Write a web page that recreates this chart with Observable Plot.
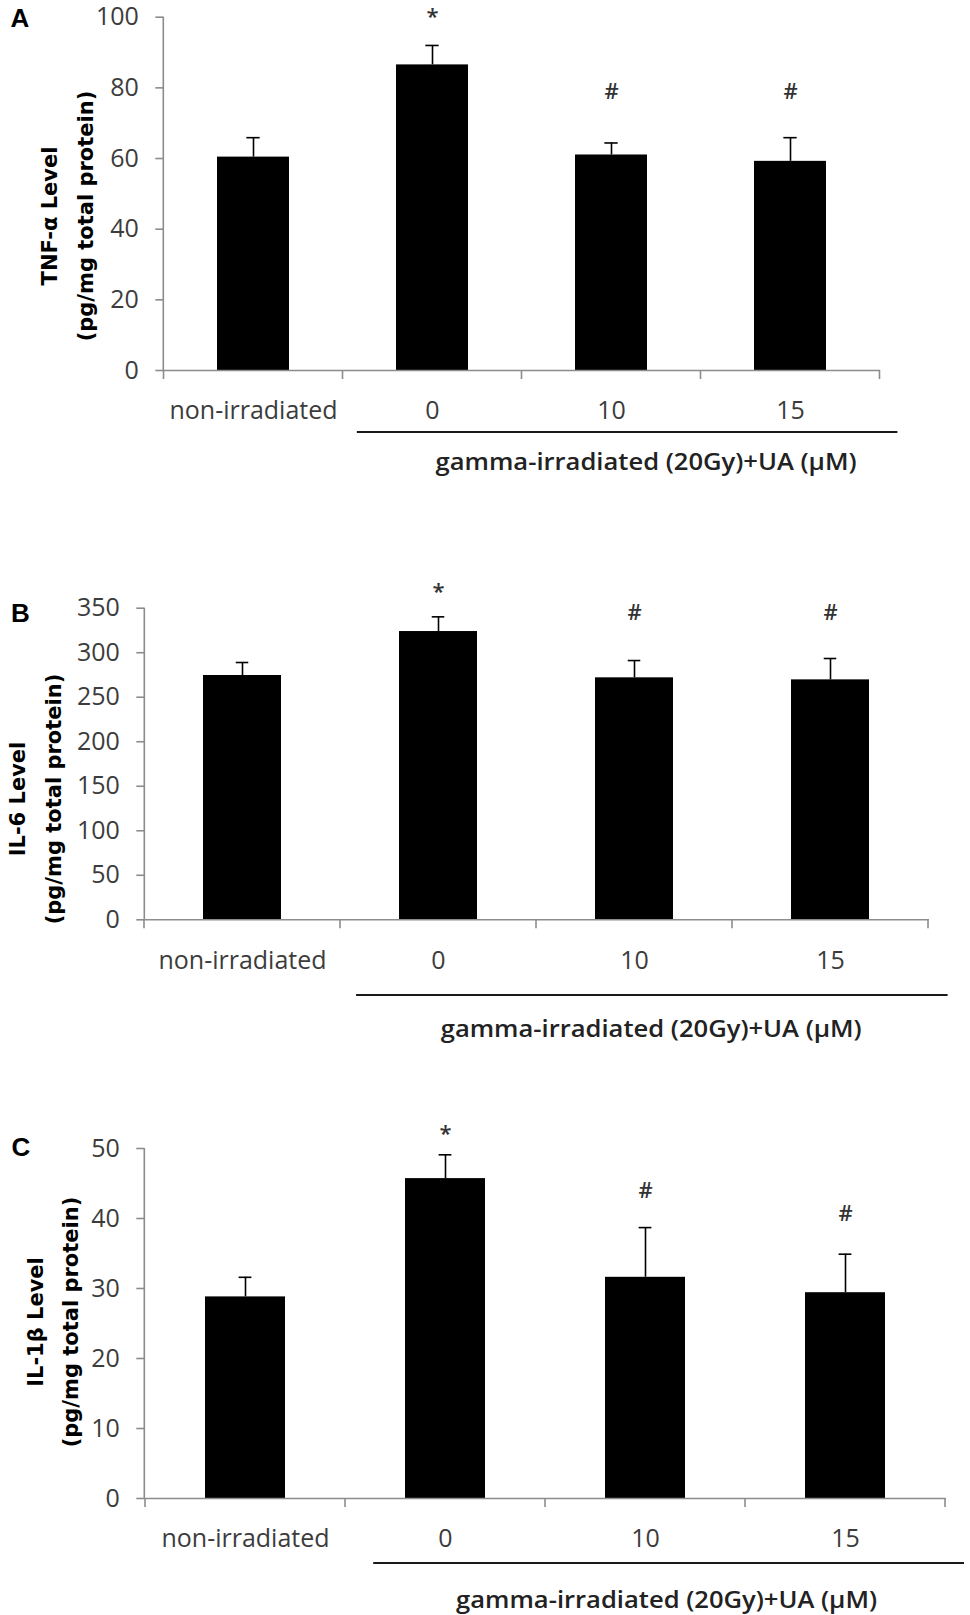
<!DOCTYPE html>
<html><head><meta charset="utf-8">
<script src="https://cdn.jsdelivr.net/npm/d3@7"></script>
<script src="https://cdn.jsdelivr.net/npm/@observablehq/plot@0.6"></script>
<style>
body{margin:0;background:#fff;width:970px;height:1615px;position:relative;overflow:hidden}
.panel{position:absolute;left:0}
</style></head><body>
<div id="pA" class="panel" style="top:0px"></div>
<div id="pB" class="panel" style="top:560px"></div>
<div id="pC" class="panel" style="top:1100px"></div>
<script>
// ---- data ----
const categories = ["non-irradiated", "0", "10", "15"];
const groupLabel = "gamma-irradiated (20Gy)+UA (\u00B5M)";
const sigMarks = ["", "*", "#", "#"];

const tnfMean = [60.4, 86.5, 61.0, 59.2];
const tnfSD = [5.5, 5.5, 3.4, 6.7];
const tnfMarkY = [null, 100, 78.7, 78.7];
const tnfTicks = [0, 20, 40, 60, 80, 100];

const il6Mean = [274.4, 323.8, 271.8, 269.5];
const il6SD = [14.6, 16.5, 19.4, 24.0];
const il6MarkY = [null, 368, 344.4, 344.4];
const il6Ticks = [0, 50, 100, 150, 200, 250, 300, 350];

const il1Mean = [28.8, 45.7, 31.6, 29.4];
const il1SD = [2.8, 3.4, 7.1, 5.5];
const il1MarkY = [null, 52.1, 44.0, 40.6];
const il1Ticks = [0, 10, 20, 30, 40, 50];

const panels = [
  {el: "#pA", letter: "A", t1: "TNF-\u03B1 Level", t2: "(pg/mg total protein)",
   mean: tnfMean, sd: tnfSD, markY: tnfMarkY, ticks: tnfTicks,
   height: 490, mL: 163.3, mR: 90, mT: 16.7, mB: 120,
   lineA: 0.42, lineB: 0.6, lineDy: 62, textC: 1.196, textDy: 90,
   tx1: 50, tx2: 86, ty: 216, lx: 20, ly: 17.5},
  {el: "#pB", letter: "B", t1: "IL-6 Level", t2: "(pg/mg total protein)",
   mean: il6Mean, sd: il6SD, markY: il6MarkY, ticks: il6Ticks,
   height: 490, mL: 144.3, mR: 41, mT: 47.7, mB: 130.7,
   lineA: 0.418, lineB: 0.6, lineDy: 75.7, textC: 1.088, textDy: 107.7,
   tx1: 17.5, tx2: 53.5, ty: 239, lx: 20.5, ly: 53},
  {el: "#pC", letter: "C", t1: "IL-1\u03B2 Level", t2: "(pg/mg total protein)",
   mean: il1Mean, sd: il1SD, markY: il1MarkY, ticks: il1Ticks,
   height: 515, mL: 144.3, mR: 24, mT: 48, mB: 117,
   lineA: 0.359, lineB: 0.595, lineDy: 65, textC: 1.108, textDy: 100,
   tx1: 36, tx2: 71, ty: 222, lx: 21, ly: 46.5}
];

const AXIS_GRAY = "#8c8c8c";

for (const p of panels) {
  const data = categories.map((c, i) => ({
    cat: c, mean: p.mean[i], top: p.mean[i] + p.sd[i], mark: sigMarks[i], markY: p.markY[i]
  }));
  const yMax = p.ticks[p.ticks.length - 1];
  const innerW = 970 - p.mL - p.mR;
  const bw = 0.4 * innerW / 4;
  const chart = Plot.plot({
    width: 970, height: p.height,
    marginLeft: p.mL, marginRight: p.mR, marginTop: p.mT, marginBottom: p.mB,
    style: {fontFamily: "'Open Sans', sans-serif", fontSize: "25px", color: "#3c3c3c", background: "transparent", overflow: "visible"},
    x: {type: "band", domain: categories, paddingInner: 0.6, paddingOuter: 0.3, label: null},
    y: {domain: [0, yMax], label: null},
    marks: [
      Plot.barY(data, {x: "cat", y: "mean", fill: "black"}),
      Plot.ruleX(data, {x: "cat", y1: "mean", y2: "top", stroke: "black", strokeWidth: 1.6}),
      Plot.tickY(data, {x: "cat", y: "top", stroke: "black", strokeWidth: 1.6, inset: (bw - 13) / 2}),
      Plot.text(data.filter(d => d.mark), {x: "cat", y: "markY", text: "mark", fontSize: 22, fontWeight: 600, fill: "#333"}),
      Plot.ruleY([0], {stroke: AXIS_GRAY, strokeWidth: 1.6}),
      Plot.axisY({ticks: p.ticks, tickSize: 8, tickPadding: 17, stroke: AXIS_GRAY, strokeWidth: 1.6, tickFormat: d => String(d), label: null}),
      Plot.axisX({tickSize: 0, tickPadding: 31, label: null})
    ]
  });

  const svg = d3.select(chart);
  const sx = chart.scale("x"), sy = chart.scale("y");
  const y0 = sy.apply(0), yTop = sy.apply(yMax);
  const step = sx.step || innerW / 4;
  const centers = categories.map(c => sx.apply(c) + sx.bandwidth / 2);
  const g = svg.append("g");
  // y axis line
  g.append("line").attr("x1", p.mL).attr("x2", p.mL).attr("y1", yTop).attr("y2", y0)
    .attr("stroke", AXIS_GRAY).attr("stroke-width", 1.6);
  // category boundary ticks
  const bounds = [centers[0] - step / 2, ...centers.map(c => c + step / 2)];
  for (const b of bounds) {
    g.append("line").attr("x1", b).attr("x2", b).attr("y1", y0).attr("y2", y0 + 9)
      .attr("stroke", AXIS_GRAY).attr("stroke-width", 1.6);
  }
  // group underline and label
  g.append("line")
    .attr("x1", centers[1] - p.lineA * step).attr("x2", centers[3] + p.lineB * step)
    .attr("y1", y0 + p.lineDy).attr("y2", y0 + p.lineDy)
    .attr("stroke", "#1a1a1a").attr("stroke-width", 2);
  g.append("text")
    .attr("x", centers[1] + p.textC * step).attr("y", y0 + p.textDy)
    .attr("text-anchor", "middle").attr("dominant-baseline", "central")
    .attr("font-family", "'Open Sans', sans-serif").attr("font-weight", 600)
    .attr("font-size", 24).attr("fill", "#222")
    .attr("textLength", 421).attr("lengthAdjust", "spacingAndGlyphs")
    .text(groupLabel);
  // y title (two lines)
  for (const [tx, txt] of [[p.tx1, p.t1], [p.tx2, p.t2]]) {
    g.append("text")
      .attr("transform", `translate(${tx},${p.ty}) rotate(-90)`)
      .attr("text-anchor", "middle").attr("dominant-baseline", "central")
      .attr("font-family", "'DejaVu Sans', sans-serif").attr("font-weight", "bold")
      .attr("font-size", 21).attr("fill", "#000")
      .text(txt);
  }
  // panel letter
  g.append("text").attr("x", p.lx).attr("y", p.ly)
    .attr("text-anchor", "middle").attr("dominant-baseline", "central")
    .attr("font-family", "'Liberation Sans', Arial, sans-serif").attr("font-weight", "bold")
    .attr("font-size", 26).attr("fill", "#000").text(p.letter);

  document.querySelector(p.el).appendChild(chart);
}
</script>
</body></html>
